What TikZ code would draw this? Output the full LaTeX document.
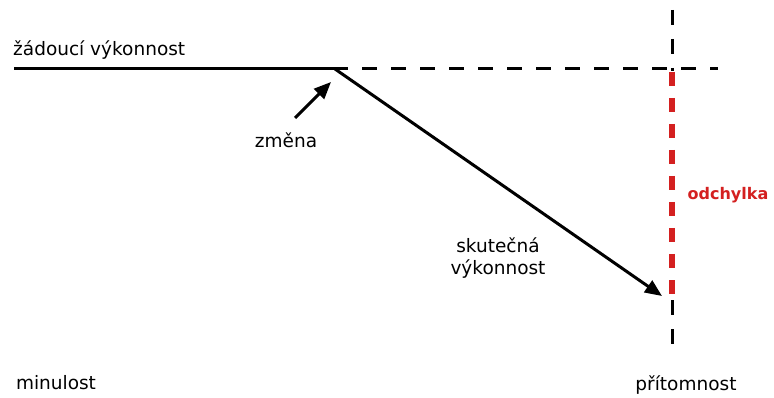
\documentclass[tikz,border=0pt]{standalone}
\usepackage{fontspec}
\setmainfont{DejaVu Sans}
\usetikzlibrary{arrows.meta}
\definecolor{devred}{HTML}{D42020}
\tikzset{
  lbl/.style={inner sep=0pt, font=\fontsize{18.5}{22}\selectfont},
  blackdash/.style={line width=3pt, dash pattern=on 15pt off 14pt},
  reddash/.style={line width=6pt, draw=devred, dash pattern=on 14pt off 12pt},
  bigarrow/.style={line width=3pt, -{Triangle[length=17pt,width=14pt]}}
}
\begin{document}
\begin{tikzpicture}[x=1pt,y=-1pt]
\useasboundingbox[fill=white] (0,0) rectangle (774,398);
\coordinate (start) at (14,69);
\coordinate (bend) at (335,69);
\coordinate (hend) at (718,69);
\coordinate (vtop) at (672,10);
\coordinate (vbot) at (672,345);
\coordinate (rtop) at (672,72);
\coordinate (rbot) at (672,296);
\coordinate (tip) at (662,296);
\coordinate (ztail) at (295,118);
\coordinate (zhead) at (331,82);
\draw[line width=3pt] (start) -- (bend);
\draw[blackdash, dash phase=2pt] (bend) -- (hend);
\draw[blackdash] (vtop) -- (vbot);
\fill[white] (667,71) rectangle (677,299);
\draw[reddash] (rtop) -- (rbot);
\draw[bigarrow] (bend) -- (tip);
\draw[bigarrow] (ztail) -- (zhead);
\node[lbl, anchor=south west] (zad) at (13,60) {žádoucí výkonnost};
\node[lbl] (zmena) at (286,140) {změna};
\node[lbl, align=center] (skut) at (498,258) {skutečná\\výkonnost};
\node[lbl, font=\fontsize{16}{19}\selectfont\bfseries, text=devred] (odch) at (728,195) {odchylka};
\node[lbl] (min) at (56,383) {minulost};
\node[lbl] (prit) at (686,385) {přítomnost};
\end{tikzpicture}
\end{document}
